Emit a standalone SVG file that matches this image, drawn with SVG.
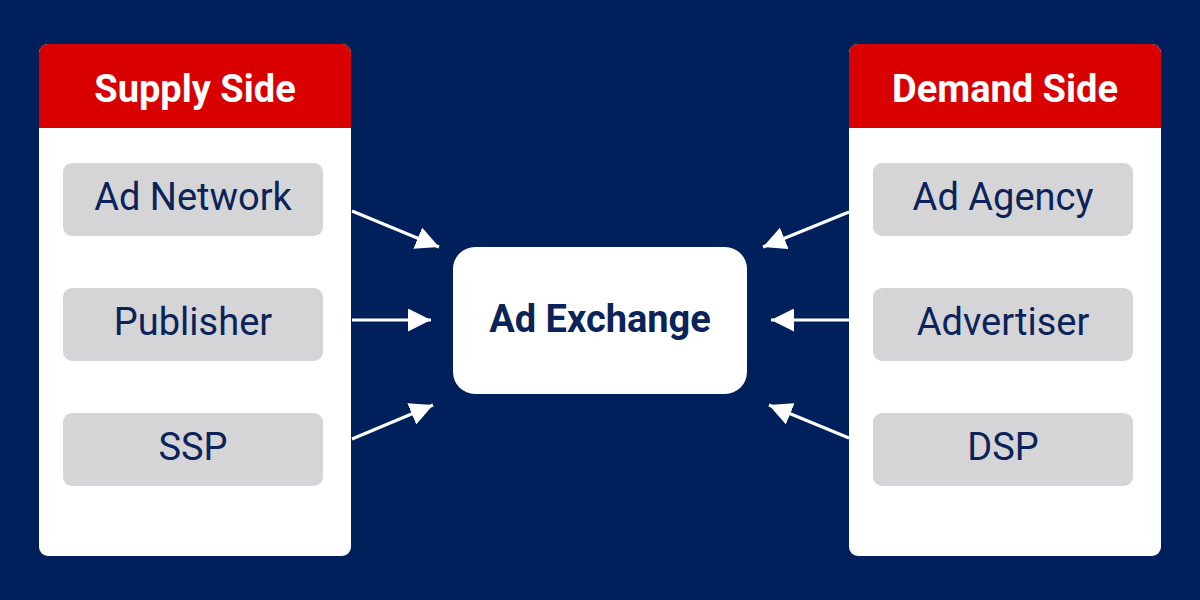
<svg xmlns="http://www.w3.org/2000/svg" width="1200" height="600" viewBox="0 0 1200 600">
<defs>
<style>
.panel{fill:#ffffff}
.head{fill:#d80000}
.item{fill:#d5d5d7}
.htxt{font-family:Roboto,"Liberation Sans",sans-serif;font-weight:700;font-size:38px;fill:#ffffff;text-anchor:middle}
.itxt{font-family:Roboto,"Liberation Sans",sans-serif;font-weight:400;font-size:38px;fill:#0b2358;text-anchor:middle}
.ctxt{font-family:Roboto,"Liberation Sans",sans-serif;font-weight:700;font-size:38px;fill:#0b2358;text-anchor:middle}
.conn{stroke:#ffffff;stroke-width:3;fill:none}
</style>
<marker id="ah" viewBox="0 0 10 10" refX="10" refY="5" markerWidth="23" markerHeight="23" markerUnits="userSpaceOnUse" orient="auto">
<path d="M0,0 L10,5 L0,10 Z" fill="#ffffff"/>
</marker>
</defs>
<rect width="1200" height="600" fill="#00205b"/>
<g id="supply-side">
<rect class="panel" x="39" y="44" width="312" height="512" rx="9"/>
<path class="head" d="M39,128 V53 a9,9 0 0 1 9,-9 H342 a9,9 0 0 1 9,9 V128 Z"/>
<text class="htxt" x="195" y="102">Supply Side</text>
</g>
<g id="ad-network">
<rect class="item" x="63" y="163" width="260" height="73" rx="9"/>
<text class="itxt" x="193" y="210">Ad Network</text>
</g>
<g id="publisher">
<rect class="item" x="63" y="288" width="260" height="73" rx="9"/>
<text class="itxt" x="193" y="335">Publisher</text>
</g>
<g id="ssp">
<rect class="item" x="63" y="413" width="260" height="73" rx="9"/>
<text class="itxt" x="193" y="460">SSP</text>
</g>
<g id="demand-side">
<rect class="panel" x="849" y="44" width="312" height="512" rx="9"/>
<path class="head" d="M849,128 V53 a9,9 0 0 1 9,-9 H1152 a9,9 0 0 1 9,9 V128 Z"/>
<text class="htxt" x="1005" y="102">Demand Side</text>
</g>
<g id="ad-agency">
<rect class="item" x="873" y="163" width="260" height="73" rx="9"/>
<text class="itxt" x="1003" y="210">Ad Agency</text>
</g>
<g id="advertiser">
<rect class="item" x="873" y="288" width="260" height="73" rx="9"/>
<text class="itxt" x="1003" y="335">Advertiser</text>
</g>
<g id="dsp">
<rect class="item" x="873" y="413" width="260" height="73" rx="9"/>
<text class="itxt" x="1003" y="460">DSP</text>
</g>
<g id="ad-exchange">
<rect x="453" y="247" width="294" height="147" rx="22" fill="#ffffff"/>
<text class="ctxt" x="600" y="332">Ad Exchange</text>
</g>
<g id="connectors">
<line class="conn" x1="352" y1="211" x2="439" y2="247" marker-end="url(#ah)"/>
<line class="conn" x1="352" y1="320" x2="431" y2="320" marker-end="url(#ah)"/>
<line class="conn" x1="352" y1="439" x2="433" y2="405" marker-end="url(#ah)"/>
<line class="conn" x1="849" y1="212" x2="763" y2="247" marker-end="url(#ah)"/>
<line class="conn" x1="849" y1="320" x2="771" y2="320" marker-end="url(#ah)"/>
<line class="conn" x1="849" y1="438" x2="769" y2="405" marker-end="url(#ah)"/>
</g>
</svg>
